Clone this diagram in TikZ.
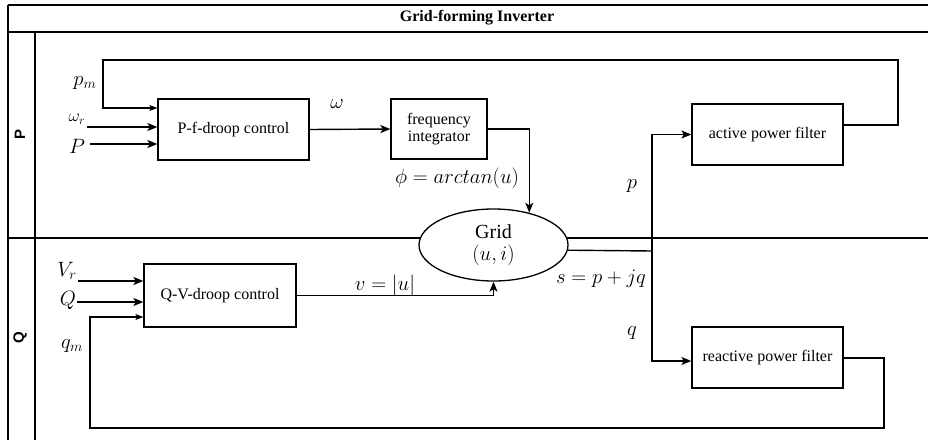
\documentclass[tikz,border=0pt]{standalone}
\usepackage{fontspec}
\setmainfont{Liberation Serif}
\newfontfamily\lanefont{Liberation Sans}
\usetikzlibrary{arrows.meta,shapes.geometric}
\begin{document}
\begin{tikzpicture}[x=1pt,y=-1pt,
  frame/.style={line width=1.6pt},
  conn/.style={line width=1.4pt},
  arr/.style={conn,-{Stealth[length=10pt,width=8pt,inset=2.5pt]}},
  sarr/.style={conn,-{Stealth[length=8pt,width=6pt,inset=2pt]}},
  blk/.style={draw,line width=1.3pt,minimum width=151pt,minimum height=61pt,inner sep=0pt,align=center,font=\fontsize{16}{18}\selectfont},
  lbl/.style={inner sep=0pt,font=\fontsize{20}{24}\selectfont},
  lane/.style={inner sep=0pt,rotate=90,font=\lanefont\bfseries\fontsize{15}{17}\selectfont}]
\useasboundingbox (0,0) rectangle (928,439);
% frame
\draw[frame] (8,5) -- (930,5);
\draw[frame] (8,32) -- (930,32);
\draw[frame] (8,5) -- (8,440);
\draw[frame] (35,32) -- (35,440);
\draw[frame] (8,238) -- (930,238);
\node[font=\bfseries\fontsize{16}{18}\selectfont,inner sep=0pt] (title) at (477,18) {Grid-forming Inverter};
\node[lane] (laneP) at (20,134) {P};
\node[lane] (laneQ) at (20,338) {Q};
% blocks
\node[blk] (pf) at (233.5,129.5) {P-f-droop control};
\node[blk,minimum width=96pt,minimum height=60pt] (fi) at (439,129) {frequency\\[-1pt]integrator};
\node[draw,fill=white,ellipse,line width=1.3pt,minimum width=149pt,minimum height=72pt,inner sep=0pt,align=center,font=\fontsize{20}{22}\selectfont] (grid) at (493.5,245) {Grid\\$(u,i)$};
\node[blk] (apf) at (767.5,134.5) {active power filter};
\node[blk] (rpf) at (767.5,357.5) {reactive power filter};
\node[blk,minimum width=152pt,minimum height=63pt] (qv) at (220,295.5) {Q-V-droop control};
% input labels
\node[lbl] (lpm) at (85,83) {$p_m$};
\node[lbl,font=\fontsize{18}{20}\selectfont] (lwr) at (77,119) {$\omega_r$};
\node[lbl] (lP) at (77,146) {$P$};
\node[lbl] (lVr) at (67,271) {$V_r$};
\node[lbl] (lQ) at (68,300) {$Q$};
\node[lbl] (lqm) at (72,346) {$q_m$};
\node[lbl] (lw) at (337,104) {$\omega$};
\node[lbl] (lphi) at (457,178) {$\phi = arctan(u)$};
\node[lbl] (lv) at (385,285) {$v = |u|$};
\node[lbl] (ls) at (601,279) {$s = p + jq$};
\node[lbl] (lp) at (632,186) {$p$};
\node[lbl] (lq) at (632,333) {$q$};
% inputs
\coordinate (wrs) at (87,127);
\coordinate (Ps) at (90,144);
\coordinate (Vrs) at (78,281);
\coordinate (Qs) at (77,302);
\draw[arr] (wrs) -- (pf.west |- wrs);
\draw[arr] (Ps) -- (pf.west |- Ps);
\draw[arr] (Vrs) -- (qv.west |- Vrs);
\draw[arr] (Qs) -- (qv.west |- Qs);
% P path
\draw[arr] (pf.east) -- (fi.west);
\draw[arr] (fi.east) -| (grid.42.8);
\coordinate (j) at (652,251);
\draw[conn] (grid.-4.7) -- (j);
\draw[arr] (j) |- (apf.west);
\draw[arr] (j) |- (rpf.west |- 0,361);
% feedback p
\draw[sarr] (apf.east |- 0,125) -- (898,125) -- (898,60) -- (103,60) -- (103,108) -- (pf.west |- 0,108);
% Q path
\draw[arr] (qv.east) -| (grid.south);
% feedback q
\draw[sarr] (rpf.east |- 0,358) -- (884,358) -- (884,428) -- (90,428) -- (90,317) -- (qv.west |- 0,317);
\end{tikzpicture}
\end{document}
